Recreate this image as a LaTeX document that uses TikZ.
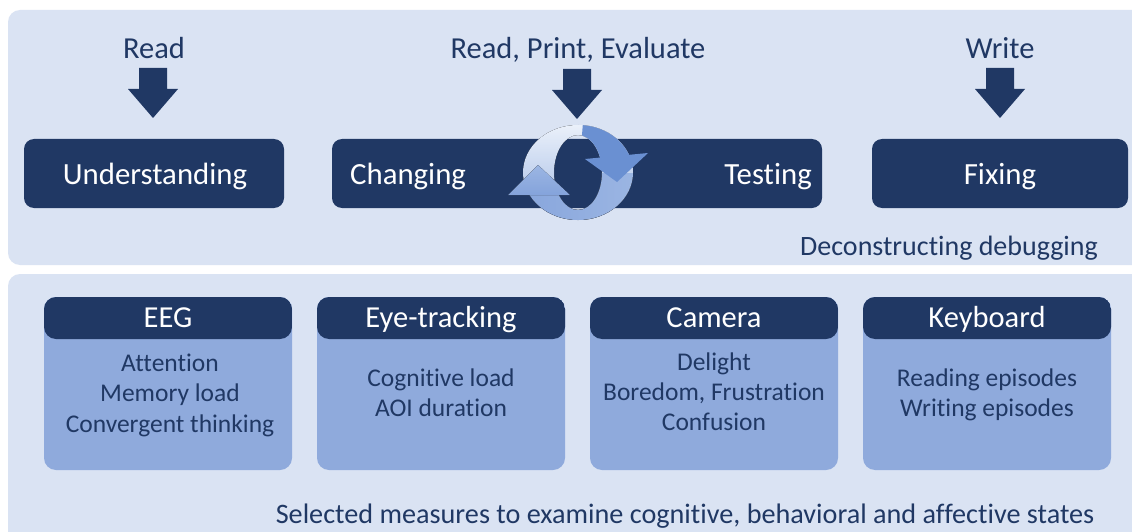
\documentclass[tikz,border=0pt]{standalone}
\usepackage{fontspec}
\setmainfont{Carlito}[Ligatures=NoCommon]
\definecolor{panel}{HTML}{DAE3F3}
\definecolor{navy}{HTML}{203864}
\definecolor{boxlight}{HTML}{8FAADC}
\definecolor{ringblue}{HTML}{6A90D2}
\definecolor{ringmid}{HTML}{84A3DB}
\definecolor{ringlight}{HTML}{9CB6E3}
\definecolor{ringpale}{HTML}{EEF3FB}
\tikzset{
 panelbox/.style={fill=panel, rounded corners=12pt},
 stagebox/.style={fill=navy, rounded corners=10pt, minimum height=69pt, inner sep=0pt},
 stagetext/.style={text=white, font=\fontsize{30.8}{36}\selectfont, inner sep=0pt, anchor=base},
 toplabel/.style={text=navy, font=\fontsize{30.5}{35}\selectfont, inner sep=0pt, anchor=base},
 measurebox/.style={fill=boxlight, rounded corners=12pt, minimum width=248pt, minimum height=173pt, inner sep=0pt,
   path picture={\fill[navy] (path picture bounding box.north west) rectangle ([yshift=-42pt]path picture bounding box.north east);}},
 headtext/.style={text=white, font=\fontsize{30.5}{35}\selectfont, inner sep=0pt, anchor=base},
 bodytext/.style={text=navy, font=\fontsize{25.5}{30}\selectfont, inner sep=0pt, anchor=base},
 pics/darrow/.style={code={\fill[navy] (-14,0) -- (14,0) -- (14,21) -- (25,21) -- (0,50) -- (-25,21) -- (-14,21) -- cycle;}}
}
\begin{document}
\begin{tikzpicture}[x=1pt,y=-1pt]
\fill[white] (0,0) rectangle (1132,532);
\useasboundingbox (0,0) rectangle (1132,532);
% panels
\fill[panelbox] (8,10) rectangle (1150,265);
\fill[panelbox] (8,274) rectangle (1150,550);

% top stage boxes
\node[stagebox, minimum width=260pt] (und) at (154,173.5) {};
\node[stagebox, minimum width=490pt] (ct) at (577,173.5) {};
\node[stagebox, minimum width=256pt] (fix) at (1000,173.5) {};
\node[stagetext] (undt) at (155,184) {Understanding};
\node[stagetext, anchor=base west] (cht) at (350,184) {Changing};
\node[stagetext, anchor=base east] (tet) at (812,184) {Testing};
\node[stagetext] (fixt) at (1000,184) {Fixing};

% top labels and arrows
\node[toplabel] (read) at (154,59) {Read};
\node[toplabel] (rpe) at (578,59) {Read, Print, Evaluate};
\node[toplabel] (write) at (1000,59) {Write};
\coordinate (a1) at (153,68);
\coordinate (a2) at (577,69);
\coordinate (a3) at (1000,68);
\pic at (a1) {darrow};
\pic at (a2) {darrow};
\pic at (a3) {darrow};

% cycle icon
\begin{scope}[even odd rule]
  \clip (578,172.5) ellipse [x radius=55, y radius=47.5] (578,172.5) ellipse [x radius=24, y radius=37.5];
  \fill[top color=ringpale, bottom color=ringlight] (520,120) rectangle (640,225);
  \fill[left color=ringmid, right color=ringlight, draw=none] (578,173) -- (500,195) -- (500,240) -- (640,240) -- (640,173) -- cycle;
  \fill[ringblue] (579,172) -- (584,110) -- (660,110) -- (660,160) -- cycle;
\end{scope}
\fill[ringblue] (585,159) -- (648,153) -- (617,182) -- cycle;
\fill[top color=ringlight, bottom color=ringmid] (538,165) -- (570,195) -- (508,195) -- cycle;

\node[toplabel, font=\fontsize{28}{34}\selectfont] (dd) at (949,255) {Deconstructing debugging};

% measures
\node[measurebox] (eeg) at (168,383.5) {};
\node[measurebox] (eye) at (441,383.5) {};
\node[measurebox] (cam) at (714,383.5) {};
\node[measurebox] (key) at (987,383.5) {};

\node[headtext] (eegh) at (168,327) {EEG};
\node[headtext] (eyeh) at (441,327) {Eye-tracking};
\node[headtext] (camh) at (714,327) {Camera};
\node[headtext] (keyh) at (987,327) {Keyboard};

\node[bodytext] (e1) at (170,371) {Attention};
\node[bodytext] (e2) at (170,401) {Memory load};
\node[bodytext] (e3) at (170,432) {Convergent thinking};
\node[bodytext] (y1) at (441,386) {Cognitive load};
\node[bodytext] (y2) at (441,416) {AOI duration};
\node[bodytext] (c1) at (714,370) {Delight};
\node[bodytext] (c2) at (714,400) {Boredom, Frustration};
\node[bodytext] (c3) at (714,430) {Confusion};
\node[bodytext] (k1) at (987,386) {Reading episodes};
\node[bodytext] (k2) at (987,416) {Writing episodes};

\node[toplabel, font=\fontsize{28.2}{34}\selectfont] (cap) at (685,523) {Selected measures to examine cognitive, behavioral and affective states};
\end{tikzpicture}
\end{document}
